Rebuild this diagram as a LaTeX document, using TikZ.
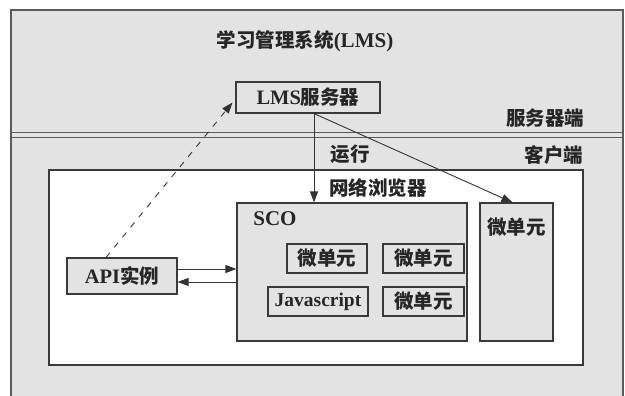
\documentclass[tikz,border=0pt]{standalone}
\usepackage{fontspec}
\setmainfont{Liberation Serif}
\newfontfamily\cjk{Noto Sans CJK SC}
\usetikzlibrary{arrows.meta,calc}
\newcommand\zh[1]{{\cjk\fontsize{19.5}{22}\selectfont #1}}
\definecolor{bggray}{HTML}{E3E3E3}
\definecolor{linegray}{HTML}{5A5A5A}
\definecolor{boxline}{HTML}{3A3A3A}
\tikzset{
  txt/.style={inner sep=0pt, text=black!85, font=\fontsize{21}{24}\selectfont\bfseries},
  box/.style={draw=boxline, line width=1.1pt, fill=bggray, inner sep=0pt, text=black!85, font=\fontsize{20.5}{24}\selectfont\bfseries},
  inbox/.style={box, line width=1.6pt},
  arr/.style={draw=black!80, line width=0.9pt, -{Triangle[length=11pt,width=8pt]}},
}
\begin{document}
\begin{tikzpicture}[x=1pt,y=-1pt]
\useasboundingbox (0,0) rectangle (625,396);
% outer frame
\fill[white] (0,0) rectangle (625,396);
\fill[bggray] (11,10) rectangle (623,396);
\draw[linegray, line width=1.5pt] (11,396) -- (11,10) -- (623,10) -- (623,396);
% double separator
\draw[linegray, line width=1pt] (11,133) -- (623,133);
\draw[linegray, line width=1pt] (11,138) -- (623,138);
% white browser box
\draw[fill=white, draw=boxline, line width=1.1pt] (49,170) rectangle (583,365);
% texts
\node[txt] (title) at (305,41) {\zh{学习管理系统}(LMS)};
\node[txt] (server) at (545,118) {\zh{服务器端}};
\node[txt] (run) at (350,154) {\zh{运行}};
\node[txt] (client) at (554,155) {\zh{客户端}};
\node[txt] (browser) at (378,188) {\zh{网络浏览器}};
% boxes
\node[box, minimum width=144pt, minimum height=31pt] (lms) at (308,97.5) {LMS\zh{服务器}};
\node[box, minimum width=230pt, minimum height=138pt] (sco) at (352,272) {};
\node[txt] (scolabel) at (275,219) {SCO};
\node[box, minimum width=73pt, minimum height=138pt] (mu) at (516.5,272) {};
\node[txt] (mulabel) at (516.5,227) {\zh{微单元}};
\node[inbox, minimum width=80pt, minimum height=29pt] (mu1) at (327,258.5) {\zh{微单元}};
\node[inbox, minimum width=81pt, minimum height=29pt] (mu2) at (423.5,258.5) {\zh{微单元}};
\node[inbox, minimum width=100pt, minimum height=29pt, font=\fontsize{19.5}{23}\selectfont\bfseries] (js) at (318,301.5) {Javascript};
\node[inbox, minimum width=81pt, minimum height=29pt] (mu3) at (423.5,301.5) {\zh{微单元}};
\node[box, minimum width=110pt, minimum height=36pt] (api) at (122,276) {API\zh{实例}};
% connectors
\coordinate (ls) at ($(lms.south)+(6,0)$);
\coordinate (a1) at ($(api.east)+(0,-7)$);
\coordinate (a2) at ($(api.east)+(0,6)$);
\coordinate (dstart) at ($(api.north)+(-16,0)$);
\coordinate (dend) at ($(lms.west)+(-3,5)$);
\coordinate (mtop) at ($(mu.north)+(-4,0)$);
\draw[arr] (ls) -- (ls |- sco.north);
\draw[arr] (ls) -- (mtop);
\draw[arr] (a1) -- (a1 -| sco.west);
\draw[arr] (a2 -| sco.west) -- (a2);
\draw[arr, dashed, dash pattern=on 6pt off 7pt] (dstart) -- (dend);
\end{tikzpicture}
\end{document}
